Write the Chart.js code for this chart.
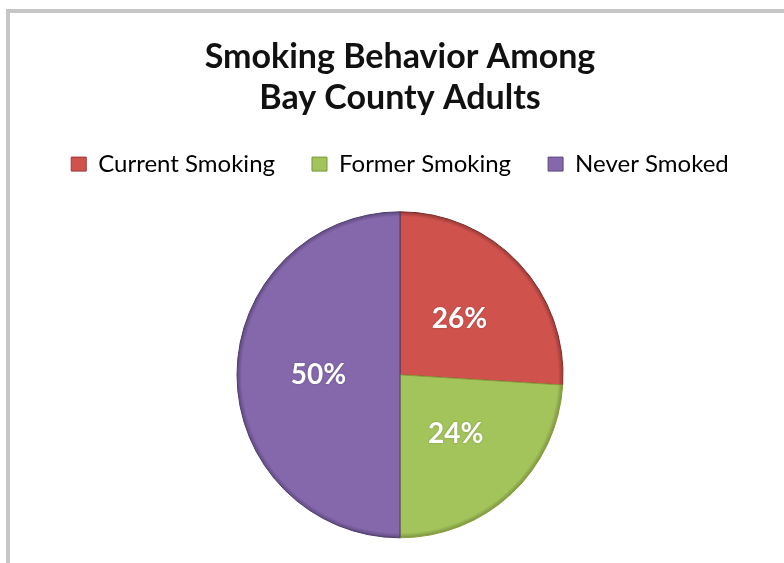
<!DOCTYPE html>
<html>
<head>
<meta charset="utf-8">
<script src="https://cdn.jsdelivr.net/npm/chart.js@4"></script>
<style>
  html, body { margin: 0; padding: 0; background: #ffffff; }
  #wrap { position: relative; width: 784px; height: 563px; overflow: hidden; background: #fff; }
  #frame { position: absolute; left: 6px; top: 9px; width: 800px; height: 600px;
           border-left: 4px solid #c6c6c6; border-top: 4px solid #c6c6c6; box-sizing: border-box; }
  #c { position: absolute; left: 0; top: 0; }
</style>
</head>
<body>
<div id="wrap">
  <div id="frame"></div>
  <canvas id="c" width="784" height="563"></canvas>
</div>
<script>
const titleLines = ['Smoking Behavior Among', 'Bay County Adults'];
const categories = ['Current Smoking', 'Former Smoking', 'Never Smoked'];
const percentValues = [26, 24, 50];
const sliceColors = ['#cf524d', '#a3c35b', '#8567ab'];
const sliceRims = ['#9a3a36', '#7a9640', '#5f4a80'];
const sliceBorders = ['#7a2e2b', '#8a9a3a', '#4f3d6a'];

function sliceFill(context) {
  const i = context.dataIndex;
  const chart = context.chart;
  const area = chart.chartArea;
  if (!area || context.type !== 'data') return sliceColors[i];
  const arc = context.element;
  const cx = arc && arc.x ? arc.x : (area.left + area.right) / 2;
  const cy = arc && arc.y ? arc.y : (area.top + area.bottom) / 2;
  const r = arc && arc.outerRadius ? arc.outerRadius : 163;
  const g = chart.ctx.createRadialGradient(cx, cy, 0, cx, cy, r);
  g.addColorStop(0, sliceColors[i]);
  g.addColorStop(0.97, sliceColors[i]);
  g.addColorStop(1, sliceRims[i]);
  return g;
}

const labelPlugin = {
  id: 'sliceLabels',
  afterDatasetsDraw(chart) {
    const ctx = chart.ctx;
    const meta = chart.getDatasetMeta(0);
    ctx.save();
    ctx.font = 'bold 28px Lato';
    ctx.fillStyle = '#ffffff';
    ctx.textAlign = 'center';
    ctx.textBaseline = 'middle';
    ctx.shadowColor = 'rgba(0,0,0,0.25)';
    ctx.shadowBlur = 2;
    meta.data.forEach((arc, i) => {
      const p = arc.getCenterPoint();
      ctx.fillText(percentValues[i] + '%', p.x, p.y);
    });
    ctx.restore();
  }
};

const legendSpacer = {
  id: 'legendSpacer',
  beforeInit(chart) {
    const orig = chart.legend.fit;
    chart.legend.fit = function () {
      orig.bind(chart.legend)();
      this.height += 0.5;
    };
  }
};

new Chart(document.getElementById('c'), {
  type: 'pie',
  data: {
    labels: categories,
    datasets: [{
      data: percentValues,
      backgroundColor: sliceFill,
      borderColor: sliceBorders,
      borderWidth: 1
    }]
  },
  options: {
    responsive: false,
    animation: false,
    radius: 163,
    layout: { padding: { left: 16, top: 0, right: 0, bottom: 0 } },
    plugins: {
      title: {
        display: true,
        text: titleLines,
        color: '#111111',
        font: { family: 'Lato', size: 34, weight: 'bold', lineHeight: 1.2 },
        padding: { top: 36.5, bottom: -3 }
      },
      legend: {
        position: 'top',
        labels: {
          color: '#3c3c3c',
          font: { family: 'Lato', size: 24 },
          boxWidth: 15,
          boxHeight: 14,
          padding: 37,
          generateLabels(chart) {
            return categories.map((name, i) => ({
              text: name,
              fillStyle: sliceColors[i],
              strokeStyle: sliceRims[i],
              lineWidth: 1,
              hidden: false,
              index: i
            }));
          }
        }
      },
      tooltip: { enabled: false }
    }
  },
  plugins: [labelPlugin, legendSpacer]
});
</script>
</body>
</html>
